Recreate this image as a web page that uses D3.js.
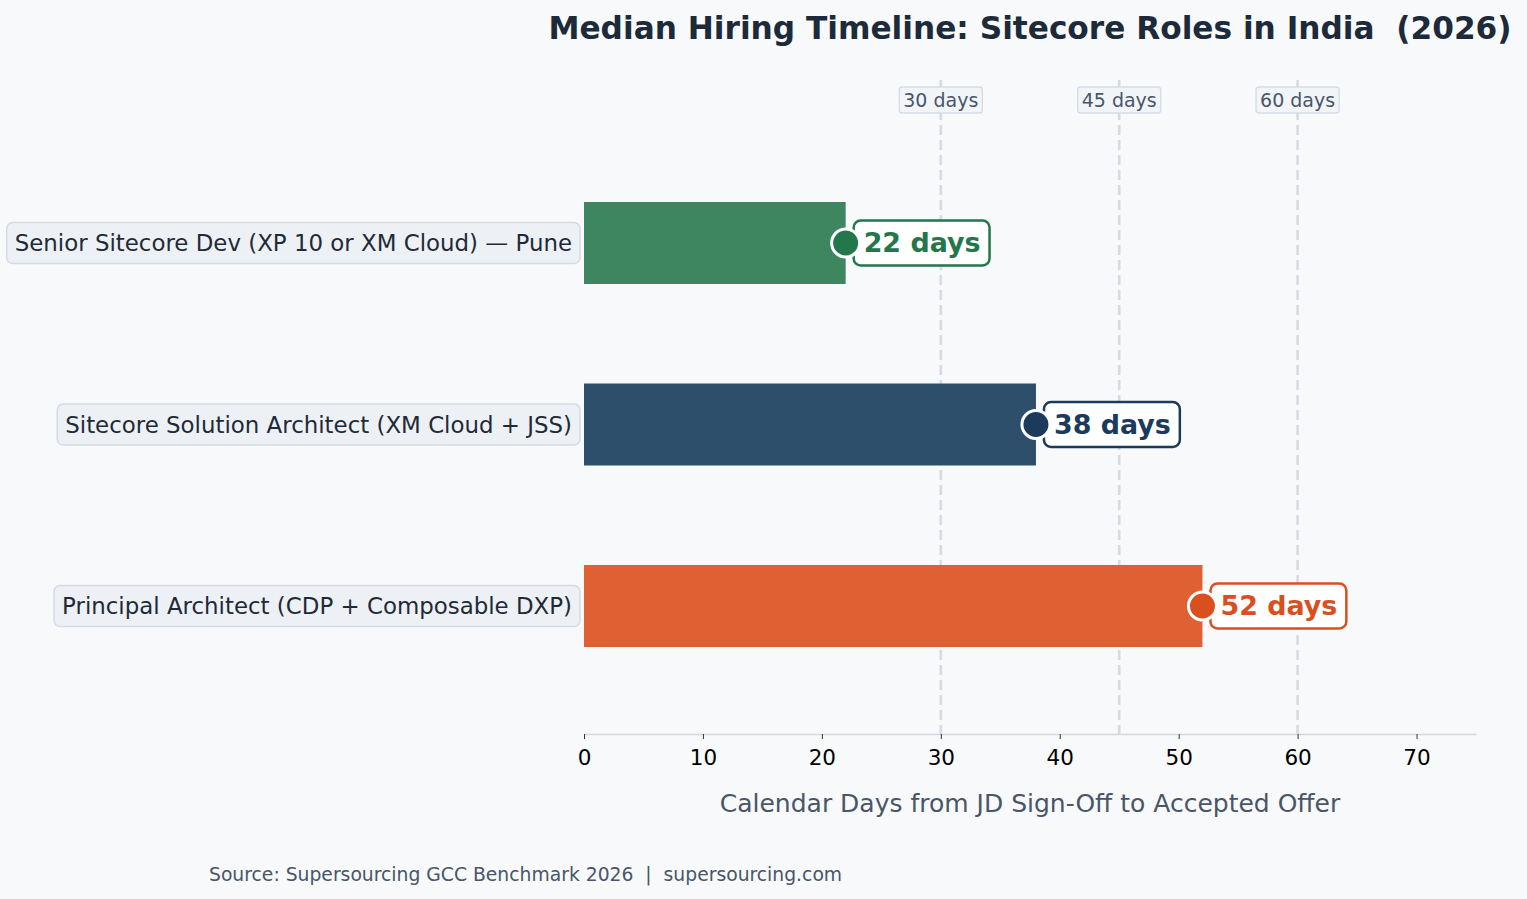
<!DOCTYPE html>
<html>
<head>
  <meta charset="utf-8">
  <style>
    body {
      margin: 0px;
      padding: 0px;
      background-color: #f7f9fb;
    }
    text { font-family: "DejaVu Sans", sans-serif; }
  </style>
</head>
<body>
  <div id="chart"></div>
  <script src="https://d3js.org/d3.v7.min.js"></script>
  <script>
    // data
    const roles = [
      'Senior Sitecore Dev (XP 10 or XM Cloud) \u2014 Pune',
      'Sitecore Solution Architect (XM Cloud + JSS)',
      'Principal Architect (CDP + Composable DXP)'
    ];
    const medianDays = [22, 38, 52];
    const refDays = [30, 45, 60];
    const xTicks = [0, 10, 20, 30, 40, 50, 60, 70];

    // styles kept apart from the data
    const barColors = ['#3d8660', '#2e4f6b', '#de6033'];
    const dotColors = ['#23774a', '#1b3a5c', '#d94f1e'];

    const width = 1527, height = 899;
    const left = 584, right = 1476, bottom = 734;

    const svg = d3.select('#chart').append('svg')
      .attr('width', width).attr('height', height);
    svg.append('rect').attr('width', width).attr('height', height).attr('fill', '#f7f9fb');

    const x = d3.scaleLinear().domain([0, 75]).range([left, right]);
    const y = d3.scalePoint().domain(roles).range([243, 606]);
    const barH = 82;

    const rows = roles.map((r, i) => ({role: r, days: medianDays[i], i: i}));

    // reference lines
    const refs = svg.append('g');
    refs.selectAll('line')
      .data(refDays)
      .enter()
      .append('line')
      .attr('x1', d => x(d)).attr('x2', d => x(d))
      .attr('y1', 80).attr('y2', bottom)
      .attr('stroke', '#d6dbe3')
      .attr('stroke-width', 2.6)
      .attr('stroke-dasharray', '10,5');

    // bars
    svg.selectAll('rect.bar')
      .data(rows)
      .enter()
      .append('rect')
      .attr('class', 'bar')
      .attr('x', x(0))
      .attr('y', d => y(d.role) - barH / 2)
      .attr('width', d => x(d.days) - x(0))
      .attr('height', barH)
      .attr('fill', d => barColors[d.i]);

    // ref labels
    const refLab = refs.selectAll('g.reflab')
      .data(refDays)
      .enter()
      .append('g')
      .attr('transform', d => 'translate(' + x(d) + ',100)');
    refLab.append('text')
      .attr('text-anchor', 'middle')
      .attr('dy', '0.35em')
      .style('font-size', '19px')
      .attr('fill', '#4a5568')
      .text(d => d + ' days');
    refLab.each(function() {
      const g = d3.select(this);
      const bb = g.select('text').node().getBBox();
      g.insert('rect', 'text')
        .attr('x', bb.x - 4).attr('y', -13)
        .attr('width', bb.width + 8).attr('height', 26)
        .attr('rx', 3)
        .attr('fill', '#f2f5f8')
        .attr('stroke', '#d5dbe2')
        .attr('stroke-width', 1.3);
    });

    // category labels
    const cat = svg.selectAll('g.cat')
      .data(rows)
      .enter()
      .append('g')
      .attr('transform', d => 'translate(572,' + y(d.role) + ')');
    cat.append('text')
      .attr('text-anchor', 'end')
      .attr('dy', '0.35em')
      .style('font-size', '22.9px')
      .attr('fill', '#1f2a37')
      .text(d => d.role);
    cat.each(function() {
      const g = d3.select(this);
      const bb = g.select('text').node().getBBox();
      g.insert('rect', 'text')
        .attr('x', bb.x - 8).attr('y', -20.5)
        .attr('width', bb.width + 16).attr('height', 41)
        .attr('rx', 6)
        .attr('fill', '#edf1f6')
        .attr('stroke', '#d5dbe2')
        .attr('stroke-width', 1.5);
    });

    // value labels
    const val = svg.selectAll('g.val')
      .data(rows)
      .enter()
      .append('g')
      .attr('transform', d => 'translate(' + x(d.days) + ',' + y(d.role) + ')');
    val.append('text')
      .attr('x', 18)
      .attr('dy', '0.35em')
      .style('font-size', '26.9px')
      .style('font-weight', 'bold')
      .attr('fill', d => dotColors[d.i])
      .text(d => d.days + ' days');
    val.each(function(d) {
      const g = d3.select(this);
      const bb = g.select('text').node().getBBox();
      g.insert('rect', 'text')
        .attr('x', 8).attr('y', -22.5)
        .attr('width', bb.width + 19).attr('height', 45)
        .attr('rx', 7)
        .attr('fill', '#ffffff')
        .attr('stroke', dotColors[d.i])
        .attr('stroke-width', 2.5);
    });
    val.append('circle')
      .attr('r', 14)
      .attr('fill', d => dotColors[d.i])
      .attr('stroke', '#ffffff')
      .attr('stroke-width', 3);

    // x axis
    const xAxis = svg.append('g')
      .attr('transform', 'translate(0,' + bottom + ')')
      .call(d3.axisBottom(x).tickValues(xTicks).tickSize(5).tickPadding(11).tickSizeOuter(0));
    xAxis.select('.domain').attr('stroke', '#d2d8e0').attr('stroke-width', 1.5);
    xAxis.selectAll('.tick line').attr('stroke', '#333').attr('stroke-width', 1);
    xAxis.selectAll('.tick text')
      .style('font-family', '"DejaVu Sans", sans-serif')
      .style('font-size', '21.5px')
      .attr('fill', '#000');

    svg.append('text')
      .attr('x', (left + right) / 2).attr('y', 812)
      .attr('text-anchor', 'middle')
      .style('font-size', '25px')
      .attr('fill', '#4a5568')
      .text('Calendar Days from JD Sign-Off to Accepted Offer');

    // title
    svg.append('text')
      .attr('x', (left + right) / 2).attr('y', 39)
      .attr('text-anchor', 'middle')
      .style('font-size', '31.2px')
      .style('font-weight', 'bold')
      .attr('fill', '#1c2a3a')
      .style('white-space', 'pre')
      .text('Median Hiring Timeline: Sitecore Roles in India  (2026)');

    // source
    svg.append('text')
      .attr('x', 209).attr('y', 881)
      .style('font-size', '18.75px')
      .attr('fill', '#4a5568')
      .style('white-space', 'pre')
      .text('Source: Supersourcing GCC Benchmark 2026  |  supersourcing.com');
  </script>
</body>
</html>
